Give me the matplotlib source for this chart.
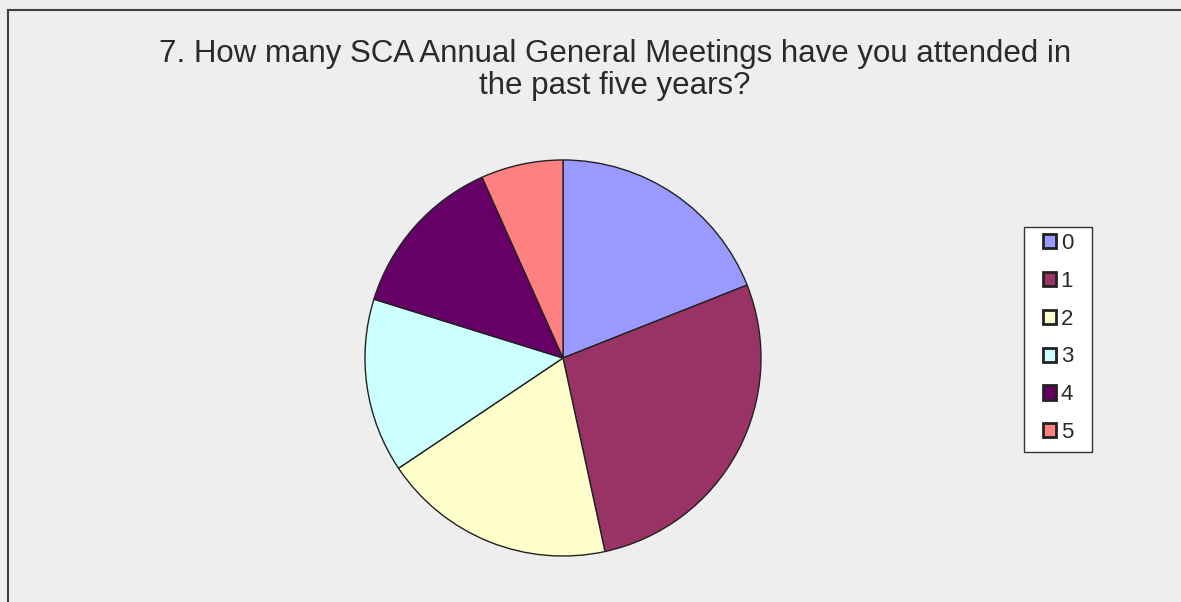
import matplotlib.pyplot as plt
from matplotlib.patches import Rectangle

plt.rcParams['font.family'] = ['Liberation Sans', 'DejaVu Sans']

# answers and share of respondents (%)
labels = ["0", "1", "2", "3", "4", "5"]
shares = [19.0, 27.6, 19.0, 14.2, 13.5, 6.7]
colors = ["#9999FF", "#993366", "#FFFFCC", "#CCFFFF", "#660066", "#FF8080"]

title = "7. How many SCA Annual General Meetings have you attended in\nthe past five years?"

W, H = 1181, 602
fig = plt.figure(figsize=(W / 100, H / 100), dpi=100)
fig.patch.set_facecolor("#EEEEEE")

# chart area frame (only left/top edges fall inside the image)
fig.patches.append(Rectangle((8 / W, -0.1), 1.2, (H - 10) / H + 0.1,
                             transform=fig.transFigure, fill=False,
                             edgecolor="#404040", linewidth=1.5))

fig.text(615 / W, 1 - 70 / H, title, ha="center", va="center",
         fontsize=22.5, color="#2a2a2a", linespacing=1.12)

cx, cy, r = 563, 358, 200
ax = fig.add_axes([(cx - r) / W, (H - cy - r) / H, 2 * r / W, 2 * r / H])
wedges, _ = ax.pie(shares, colors=colors, startangle=90, counterclock=False,
                   radius=1.0,
                   wedgeprops=dict(edgecolor="#222222", linewidth=1.0))
ax.set_xlim(-1.01, 1.01)
ax.set_ylim(-1.01, 1.01)
ax.set_aspect("equal")
ax.axis("off")

# legend box drawn separately so its padding can differ per side
fig.patches.append(Rectangle((1024 / W, 1 - 452 / H), 68 / W, 225 / H,
                             transform=fig.transFigure, facecolor="white",
                             edgecolor="#333333", linewidth=1.0, zorder=1))
leg = fig.legend(wedges, labels, loc="center", bbox_to_anchor=(1058 / W, 1 - 338 / H),
                 fontsize=16, frameon=False, handlelength=0.6,
                 handleheight=0.6, handletextpad=0.2, labelspacing=0.76,
                 borderpad=0, borderaxespad=0)
for h in leg.legend_handles:
    h.set_linewidth(2.0)
for t in leg.get_texts():
    t.set_color("#2a2a2a")

fig.savefig("out.png", dpi=100, facecolor=fig.get_facecolor())
